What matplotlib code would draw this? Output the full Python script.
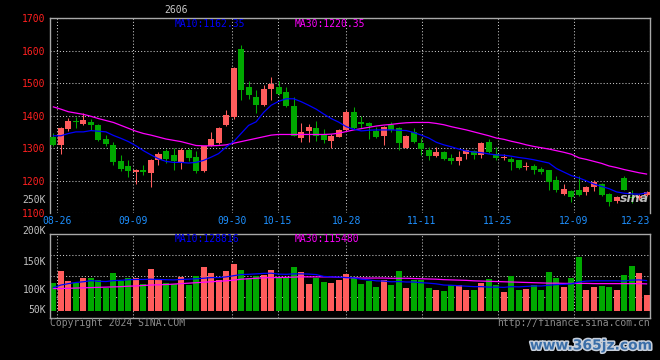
import matplotlib
matplotlib.use("Agg")
import matplotlib.pyplot as plt
import matplotlib.patheffects as pe
import numpy as np

W, H = 660, 360
MONO = "DejaVu Sans Mono"
UP = "#FF5C5C"
DOWN = "#00A800"
GRID = "#C8C8C8"
BORDER = "#A8A8A8"

# trading days 08-23 .. 12-23
DATES = ["08-26", "09-09", "09-30", "10-15", "10-28", "11-11", "11-25", "12-09", "12-23"]
DATE_IDX = [1, 11, 24, 30, 39, 49, 59, 69, 79]

OPEN = [1335, 1310, 1359, 1382, 1373, 1381, 1371, 1328, 1310, 1259,
        1244, 1226, 1232, 1222, 1262, 1292, 1279, 1256, 1293, 1272,
        1228, 1307, 1317, 1371, 1396, 1605, 1488, 1458, 1432, 1483,
        1488, 1473, 1430, 1332, 1353, 1361, 1344, 1322, 1335, 1356,
        1412, 1381, 1376, 1354, 1338, 1371, 1361, 1300, 1349, 1317,
        1293, 1276, 1287, 1271, 1259, 1281, 1292, 1279, 1320, 1281,
        1271, 1267, 1262, 1243, 1246, 1236, 1231, 1201, 1160, 1169,
        1172, 1165, 1180, 1190, 1159, 1137, 1208, 1150, 1145, 1157]
HIGH = [1345, 1364, 1394, 1396, 1407, 1391, 1373, 1340, 1320, 1279,
        1264, 1237, 1249, 1265, 1287, 1298, 1300, 1300, 1300, 1290,
        1307, 1351, 1365, 1417, 1549, 1617, 1508, 1478, 1493, 1519,
        1508, 1488, 1458, 1376, 1374, 1383, 1359, 1342, 1358, 1417,
        1427, 1398, 1381, 1366, 1368, 1379, 1365, 1340, 1361, 1330,
        1302, 1303, 1292, 1281, 1290, 1297, 1295, 1318, 1328, 1303,
        1281, 1274, 1264, 1257, 1251, 1241, 1233, 1215, 1188, 1172,
        1215, 1183, 1203, 1193, 1162, 1152, 1213, 1170, 1158, 1167]
LOW = [1308, 1282, 1354, 1363, 1371, 1356, 1323, 1305, 1249, 1228,
       1210, 1188, 1218, 1180, 1249, 1254, 1234, 1237, 1259, 1223,
       1226, 1305, 1314, 1369, 1391, 1447, 1450, 1409, 1430, 1447,
       1463, 1427, 1336, 1318, 1320, 1322, 1315, 1300, 1333, 1354,
       1359, 1361, 1327, 1330, 1310, 1351, 1293, 1300, 1317, 1279,
       1264, 1272, 1262, 1252, 1249, 1267, 1266, 1269, 1284, 1262,
       1264, 1234, 1237, 1231, 1221, 1220, 1172, 1164, 1157, 1134,
       1152, 1157, 1167, 1152, 1122, 1130, 1170, 1130, 1140, 1152]
CLOSE = [1310, 1361, 1383, 1380, 1386, 1371, 1325, 1313, 1256, 1237,
         1228, 1232, 1226, 1262, 1281, 1267, 1259, 1293, 1271, 1228,
         1305, 1328, 1361, 1402, 1546, 1478, 1463, 1432, 1483, 1498,
         1468, 1430, 1338, 1351, 1366, 1338, 1325, 1338, 1356, 1412,
         1361, 1375, 1368, 1335, 1366, 1356, 1317, 1338, 1320, 1298,
         1276, 1287, 1267, 1259, 1272, 1295, 1279, 1317, 1288, 1271,
         1273, 1256, 1239, 1245, 1232, 1225, 1195, 1170, 1175, 1149,
         1157, 1181, 1195, 1157, 1134, 1149, 1172, 1145, 1152, 1164]

MA10 = [1338, 1338, 1345, 1350, 1350, 1354, 1352, 1350, 1339, 1330,
        1320, 1307, 1292, 1279, 1267, 1259, 1256, 1256, 1254, 1256,
        1262, 1272, 1283, 1303, 1320, 1345, 1370, 1381, 1410, 1432,
        1444, 1452, 1452, 1443, 1432, 1420, 1405, 1391, 1380, 1366,
        1358, 1353, 1355, 1356, 1356, 1356, 1355, 1354, 1348, 1340,
        1331, 1318, 1310, 1304, 1297, 1291, 1288, 1286, 1282, 1279,
        1278, 1275, 1271, 1268, 1264, 1259, 1254, 1237, 1226, 1215,
        1208, 1199, 1189, 1182, 1175, 1165, 1161, 1159, 1158, 1162]
MA30 = [1427, 1420, 1412, 1408, 1404, 1398, 1391, 1385, 1379, 1370,
        1361, 1352, 1345, 1340, 1334, 1328, 1324, 1320, 1314, 1308,
        1307, 1307, 1308, 1310, 1315, 1320, 1325, 1330, 1335, 1340,
        1342, 1342, 1342, 1342, 1342, 1342, 1342, 1343, 1346, 1351,
        1356, 1360, 1364, 1368, 1371, 1373, 1376, 1378, 1379, 1379,
        1379, 1376, 1372, 1366, 1361, 1356, 1350, 1344, 1338, 1331,
        1327, 1321, 1316, 1310, 1305, 1301, 1297, 1292, 1287, 1281,
        1270, 1265, 1259, 1253, 1245, 1240, 1234, 1229, 1224, 1220]

# volume in thousands
VOLUME = [118, 170, 129, 118, 142, 142, 132, 96, 163, 128,
          142, 142, 115, 179, 136, 119, 113, 146, 108, 150,
          188, 163, 132, 172, 202, 175, 142, 150, 153, 175,
          139, 146, 188, 168, 116, 139, 123, 120, 132, 158,
          146, 115, 128, 103, 132, 110, 170, 97, 132, 132,
          97, 89, 85, 110, 108, 89, 89, 120, 136, 110,
          80, 149, 89, 93, 110, 89, 165, 139, 100, 139,
          229, 89, 100, 106, 103, 89, 153, 192, 163, 65]
VOL_MA10 = [99, 110, 116, 121, 124, 129, 126, 125, 129, 130,
            133, 134, 134, 135, 134, 133, 132, 134, 135, 137,
            139, 142, 142, 145, 150, 155, 156, 158, 160, 161,
            157, 156, 158, 158, 157, 155, 147, 145, 144, 142,
            141, 135, 132, 128, 127, 124, 125, 123, 123, 120,
            118, 115, 110, 109, 107, 105, 103, 103, 101, 101,
            100, 103, 102, 104, 106, 106, 109, 112, 113, 115,
            123, 127, 128, 128, 128, 128, 127, 131, 132, 129]
VOL_MA30 = [95, 95, 96, 97, 98, 99, 100, 101, 102, 103,
            105, 106, 108, 110, 111, 112, 114, 116, 118, 120,
            122, 124, 126, 128, 131, 135, 137, 139, 141, 142,
            142, 143, 144, 145, 145, 145, 145, 145, 143, 142,
            141, 140, 140, 140, 140, 139, 139, 139, 138, 137,
            136, 135, 133, 132, 131, 130, 128, 127, 126, 125,
            124, 123, 122, 121, 120, 119, 118, 118, 117, 117,
            117, 117, 116, 116, 116, 116, 116, 116, 116, 115]

PRICE_TICKS = [1100, 1200, 1300, 1400, 1500, 1600, 1700]
VOL_LABELS = ["250K", "200K", "150K", "100K", "50K"]
VOL_LABEL_Y = [200, 231, 262, 290, 310]   # pixel rows where sina puts them

PRICE_MA_TEXT = ["MA10:1162.35", "MA30:1220.35"]
VOL_MA_TEXT = ["MA10:128816", "MA30:115480"]


def fx(x):
    return x / W


def fy(y):
    return 1 - y / H


def style_axes(ax, grid_x):
    ax.set_facecolor("black")
    ax.set_xlim(-0.45, 79.45)
    ax.set_xticks(grid_x)
    ax.grid(True, color=GRID, linestyle=(0, (1, 2)), linewidth=0.75, zorder=0)
    ax.set_axisbelow(True)
    ax.tick_params(length=0)
    for s in ax.spines.values():
        s.set_color(BORDER)
        s.set_linewidth(1.0)


def main():
    fig = plt.figure(figsize=(W / 100, H / 100), dpi=100, facecolor="black")
    ax_p = fig.add_axes([fx(50), fy(213), 600 / W, (213 - 18.3) / H])
    ax_v = fig.add_axes([fx(50), fy(318.3), 600 / W, (318.3 - 234.3) / H])

    # sina's date grid runs a touch wider than the candle spacing
    grid_x = [d * 1.012 - 0.49 for d in DATE_IDX]

    o, h, l, c = (np.array(a, dtype=float) for a in (OPEN, HIGH, LOW, CLOSE))
    idx = np.arange(len(c))
    colors = np.where(c >= o, UP, DOWN)

    # price panel
    style_axes(ax_p, grid_x)
    ax_p.set_ylim(1100, 1700)
    ax_p.set_yticks(PRICE_TICKS)
    ax_p.set_yticklabels([str(t) for t in PRICE_TICKS], color="#FF2020",
                         fontsize=7, family=MONO)
    ax_p.spines["bottom"].set_visible(False)
    ax_p.vlines(idx, l, h, colors=colors, linewidth=0.75, zorder=2)
    body_h = np.maximum(np.abs(c - o), 1.5)
    ax_p.bar(idx, body_h, bottom=np.minimum(o, c), width=0.8, color=colors,
             linewidth=0, zorder=3)
    ax_p.plot(idx, MA30, color="#FF00FF", linewidth=0.9, zorder=4)
    ax_p.plot(idx, MA10, color="#0000FF", linewidth=0.9, zorder=4)
    ax_p.set_xticklabels(DATES, color="#1E90FF", fontsize=7, family=MONO)
    ax_p.tick_params(axis="x", pad=2.5)
    ax_p.tick_params(axis="y", pad=3)
    ax_p.get_xticklabels()[-1].set_horizontalalignment("right")

    # volume panel
    style_axes(ax_v, grid_x)
    vol_lim = (-33000, 328000)
    ax_v.set_ylim(*vol_lim)
    ax_v.set_yticks(np.linspace(vol_lim[0], vol_lim[1], 5)[1:-1])
    ax_v.set_yticklabels([])
    ax_v.set_xticklabels([])
    vol = np.array(VOLUME) * 1000
    ax_v.bar(idx, vol, width=0.8, color=colors, linewidth=0, zorder=2)
    ax_v.plot(idx, np.array(VOL_MA30) * 1000, color="#FF00FF", linewidth=0.9, zorder=3)
    ax_v.plot(idx, np.array(VOL_MA10) * 1000, color="#0000FF", linewidth=0.9, zorder=3)

    for lab, y in zip(VOL_LABELS, VOL_LABEL_Y):
        fig.text(fx(46), fy(y), lab, color="#C0C0C0", fontsize=7, family=MONO,
                 ha="right", va="center")

    # headers
    fig.text(fx(176), fy(10), "2606", color="#C8C8C8", fontsize=7, family=MONO,
             ha="center", va="center")
    for text, x, col in zip(PRICE_MA_TEXT, (175, 295), ("#0000FF", "#FF00FF")):
        fig.text(fx(x), fy(24), text, color=col, fontsize=7, family=MONO, va="center")
    for text, x, col in zip(VOL_MA_TEXT, (175, 295), ("#0000FF", "#FF00FF")):
        fig.text(fx(x), fy(238.5), text, color=col, fontsize=7, family=MONO, va="center")

    fig.text(fx(50), fy(323.5), "Copyright 2024 SINA.COM", color="#8C8C8C",
             fontsize=7, family=MONO, va="center")
    fig.text(fx(650), fy(323.5), "http://finance.sina.com.cn", color="#8C8C8C",
             fontsize=7, family=MONO, va="center", ha="right")

    fig.text(fx(634), fy(198), "sina", color="#DDDDDD", fontsize=9,
             fontweight="bold", style="italic", ha="center", va="center", alpha=0.85)
    fig.text(fx(652), fy(345.5), "www.365jz.com", color="#3A6EA8", fontsize=10,
             fontweight="bold", ha="right", va="center",
             path_effects=[pe.withStroke(linewidth=2.2, foreground="#C8D0DC")])

    fig.savefig("out.png", dpi=100, facecolor="black")
    plt.close(fig)


if __name__ == "__main__":
    main()
